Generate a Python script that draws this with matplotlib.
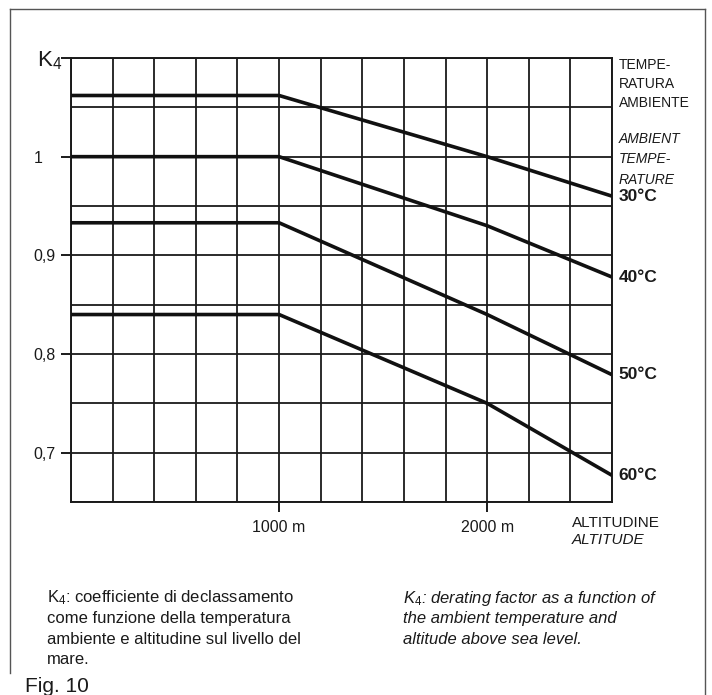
import matplotlib
matplotlib.use("Agg")
import matplotlib.pyplot as plt
from matplotlib.lines import Line2D
from matplotlib import transforms

plt.rcParams['font.family'] = ['Liberation Sans', 'DejaVu Sans']
plt.rcParams['mathtext.fontset'] = 'custom'
plt.rcParams['mathtext.rm'] = 'Liberation Sans'
plt.rcParams['mathtext.it'] = 'Liberation Sans:italic'
plt.rcParams['mathtext.bf'] = 'Liberation Sans:bold'

# ---- data ----
altitude = [0, 1000, 2000, 2600]
k4_30 = [1.062, 1.062, 1.000, 0.960]
k4_40 = [1.000, 1.000, 0.930, 0.878]
k4_50 = [0.933, 0.933, 0.840, 0.779]
k4_60 = [0.840, 0.840, 0.750, 0.677]
series = [k4_30, k4_40, k4_50, k4_60]
temp_labels = ["30°C", "40°C", "50°C", "60°C"]
ytick_vals = [0.7, 0.8, 0.9, 1.0, 1.1]
ytick_labels = ["0,7", "0,8", "0,9", "1", ""]
xtick_vals = [1000, 2000]
xtick_labels = ["1000 m", "2000 m"]

W, H = 712, 695
fig = plt.figure(figsize=(W / 100, H / 100), dpi=100)
fig.patch.set_facecolor('white')

def fx(px):
    return px / W

def fy(py):
    return 1 - py / H

L, R, T, B = 71, 612, 58, 502
ax = fig.add_axes([fx(L), fy(B), fx(R) - fx(L), fy(T) - fy(B)])
ax.set_xlim(0, 2600)
ax.set_ylim(0.65, 1.10)

ink = '#1a1a1a'
ax.set_xticks(xtick_vals)
ax.set_xticklabels(xtick_labels, fontsize=11.5)
ax.set_xticks([i * 200 for i in range(14)], minor=True)
ax.set_yticks(ytick_vals)
ax.set_yticklabels(ytick_labels, fontsize=11.5)
ax.set_yticks([0.65 + i * 0.05 for i in range(10)], minor=True)
ax.tick_params(axis='both', which='major', length=7, width=1.4, color=ink, labelcolor=ink)
ax.tick_params(axis='y', which='major', pad=20)
ax.tick_params(axis='x', which='major', pad=6)
ax.tick_params(which='minor', length=0)
for lab in ax.get_yticklabels():
    lab.set_horizontalalignment('left')
ax.grid(which='both', color=ink, linewidth=1.3)
for s in ax.spines.values():
    s.set_color(ink)
    s.set_linewidth(1.4)
ax.set_axisbelow(True)

for vals in series:
    ax.plot(altitude, vals, color='#111111', linewidth=2.6, solid_capstyle='butt', zorder=3)

# temperature labels at line ends
trans = transforms.blended_transform_factory(ax.transAxes, ax.transData)
for vals, lab in zip(series, temp_labels):
    ax.text(1.012, vals[-1], lab, transform=trans, ha='left', va='center',
            fontsize=12.5, fontweight='bold', color=ink)

# K4 label
fig.text(fx(37), fy(61), r"K$_{\mathrm{4}}$", fontsize=16, ha='left', va='center', color=ink)

# header on right
hdr = [("TEMPE-", 65, 'normal'), ("RATURA", 84, 'normal'), ("AMBIENTE", 103, 'normal'),
       ("AMBIENT", 139, 'italic'), ("TEMPE-", 159, 'italic'), ("RATURE", 180, 'italic')]
for t, y, st in hdr:
    fig.text(fx(619), fy(y), t, fontsize=10, style=st, ha='left', va='center', color=ink)

fig.text(fx(572), fy(523), "ALTITUDINE", fontsize=11, ha='left', va='center', color=ink)
fig.text(fx(572), fy(540), "ALTITUDE", fontsize=11, style='italic', ha='left', va='center', color=ink)

# captions
cap_it = ["K$_{\\mathrm{4}}$: coefficiente di declassamento",
          "come funzione della temperatura",
          "ambiente e altitudine sul livello del",
          "mare."]
for i, line in enumerate(cap_it):
    fig.text(fx(47), fy(598 + i * 20.5), line, fontsize=12, ha='left', va='center', color=ink)

cap_en = [r"$\mathit{K_4}$: derating factor as a function of",
          "the ambient temperature and",
          "altitude above sea level."]
for i, line in enumerate(cap_en):
    fig.text(fx(403), fy(598 + i * 20.5), line, fontsize=12, style='italic', ha='left', va='center', color=ink)

fig.text(fx(25), fy(686), "Fig. 10", fontsize=15, ha='left', va='center', color=ink)

# frame
fc = '#555555'
fig.add_artist(Line2D([fx(10), fx(705)], [fy(9), fy(9)], transform=fig.transFigure, color=fc, lw=1.0))
fig.add_artist(Line2D([fx(10), fx(10)], [fy(9), fy(673)], transform=fig.transFigure, color=fc, lw=1.0))
fig.add_artist(Line2D([fx(705), fx(705)], [fy(9), fy(695)], transform=fig.transFigure, color=fc, lw=1.0))

fig.savefig("out.png", dpi=100, facecolor='white')
